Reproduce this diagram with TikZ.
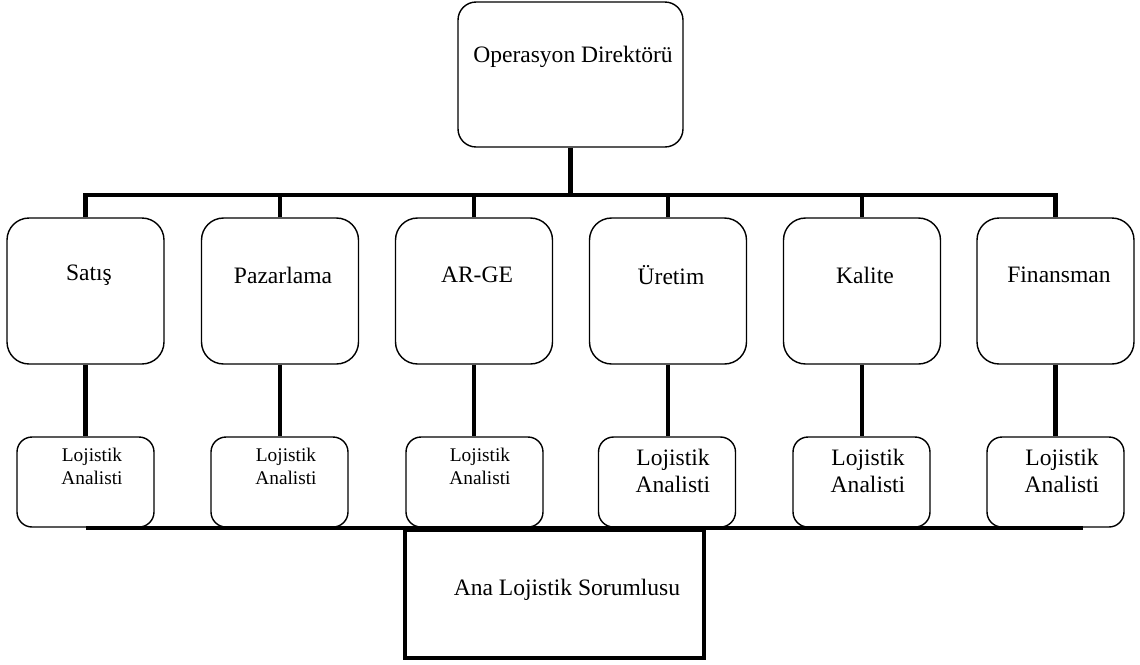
\documentclass[tikz,border=0pt]{standalone}
\usepackage{fontspec}
\setmainfont{Liberation Serif}
\usetikzlibrary{positioning,calc}

\begin{document}
\begin{tikzpicture}[
    x=0.02cm, y=-0.02cm,
    topbox/.style={draw, rounded corners=0.36cm, line width=0.8pt,
                   minimum width=4.5cm, minimum height=2.9cm},
    deptbox/.style={draw, rounded corners=0.44cm, line width=0.8pt,
                    minimum width=3.14cm, minimum height=2.92cm},
    analystbox/.style={draw, rounded corners=0.3cm, line width=0.8pt,
                       minimum width=2.74cm, minimum height=1.8cm},
    headbox/.style={draw, line width=2pt, fill=white,
                    minimum width=5.98cm, minimum height=2.56cm},
    lbl/.style={font=\fontsize{13.4}{15.4}\selectfont, inner sep=0pt, align=center},
    smalllbl/.style={font=\fontsize{11}{13.1}\selectfont, inner sep=0pt, align=center},
    conn/.style={line width=2.8pt},
    bus/.style={line width=2.2pt},
]
\useasboundingbox (0,0) rectangle (1140,664);

% ---- Top: director ----
\node[topbox] (opdir) at (570.5,74.5) {};
\node[lbl] (opdir_t) at (573,57) {Operasyon Direktörü};

% ---- Departments ----
\node[deptbox] (satis) at (85.5,291) {};
\node[deptbox] (pazar) at (280,291) {};
\node[deptbox] (arge)  at (474,291) {};
\node[deptbox] (uret)  at (668,291) {};
\node[deptbox] (kalit) at (862,291) {};
\node[deptbox] (finan) at (1055.5,291) {};

\node[lbl] (satis_t) at (89,275) {Satış};
\node[lbl] (pazar_t) at (283,275) {Pazarlama};
\node[lbl] (arge_t)  at (477,275) {AR-GE};
\node[lbl] (uret_t)  at (671,275) {Üretim};
\node[lbl] (kalit_t) at (865,275) {Kalite};
\node[lbl] (finan_t) at (1059,275) {Finansman};

% ---- Logistics analysts ----
\node[analystbox] (la1) at (85.5,482) {};
\node[analystbox] (la2) at (279.5,482) {};
\node[analystbox] (la3) at (474.5,482) {};
\node[analystbox] (la4) at (667,482) {};
\node[analystbox] (la5) at (861.5,482) {};
\node[analystbox] (la6) at (1055.5,482) {};

\node[smalllbl] (la1_t) at (92,466.5) {Lojistik\\Analisti};
\node[smalllbl] (la2_t) at (286,466.5) {Lojistik\\Analisti};
\node[smalllbl] (la3_t) at (480,466.5) {Lojistik\\Analisti};
\node[lbl] (la4_t) at (673,471) {Lojistik\\Analisti};
\node[lbl] (la5_t) at (868,471) {Lojistik\\Analisti};
\node[lbl] (la6_t) at (1062,471) {Lojistik\\Analisti};

% ---- Top bus ----
\coordinate (topbus) at (0,195);
\draw[conn] (opdir.south) -- (opdir.south |- topbus);
\draw[conn] (satis.north) -- (satis.north |- topbus) -- (finan.north |- topbus) -- (finan.north);
\draw[conn] (pazar.north) -- (pazar.north |- topbus);
\draw[conn] (arge.north)  -- (arge.north |- topbus);
\draw[conn] (uret.north)  -- (uret.north |- topbus);
\draw[conn] (kalit.north) -- (kalit.north |- topbus);

% ---- Department to analyst ----
\draw[conn] (satis.south) -- (satis.south |- la1.north);
\draw[conn] (pazar.south) -- (pazar.south |- la2.north);
\draw[conn] (arge.south)  -- (arge.south |- la3.north);
\draw[conn] (uret.south)  -- (uret.south |- la4.north);
\draw[conn] (kalit.south) -- (kalit.south |- la5.north);
\draw[conn] (finan.south) -- (finan.south |- la6.north);

% ---- Bottom bus and head ----
\coordinate (busL) at (86,528);
\coordinate (busR) at (1083,528);
\draw[bus] (busL) -- (busR);
\node[headbox] (head) at (554.5,594) {};
\node[lbl] (head_t) at (567,590) {Ana Lojistik Sorumlusu};
\end{tikzpicture}
\end{document}
